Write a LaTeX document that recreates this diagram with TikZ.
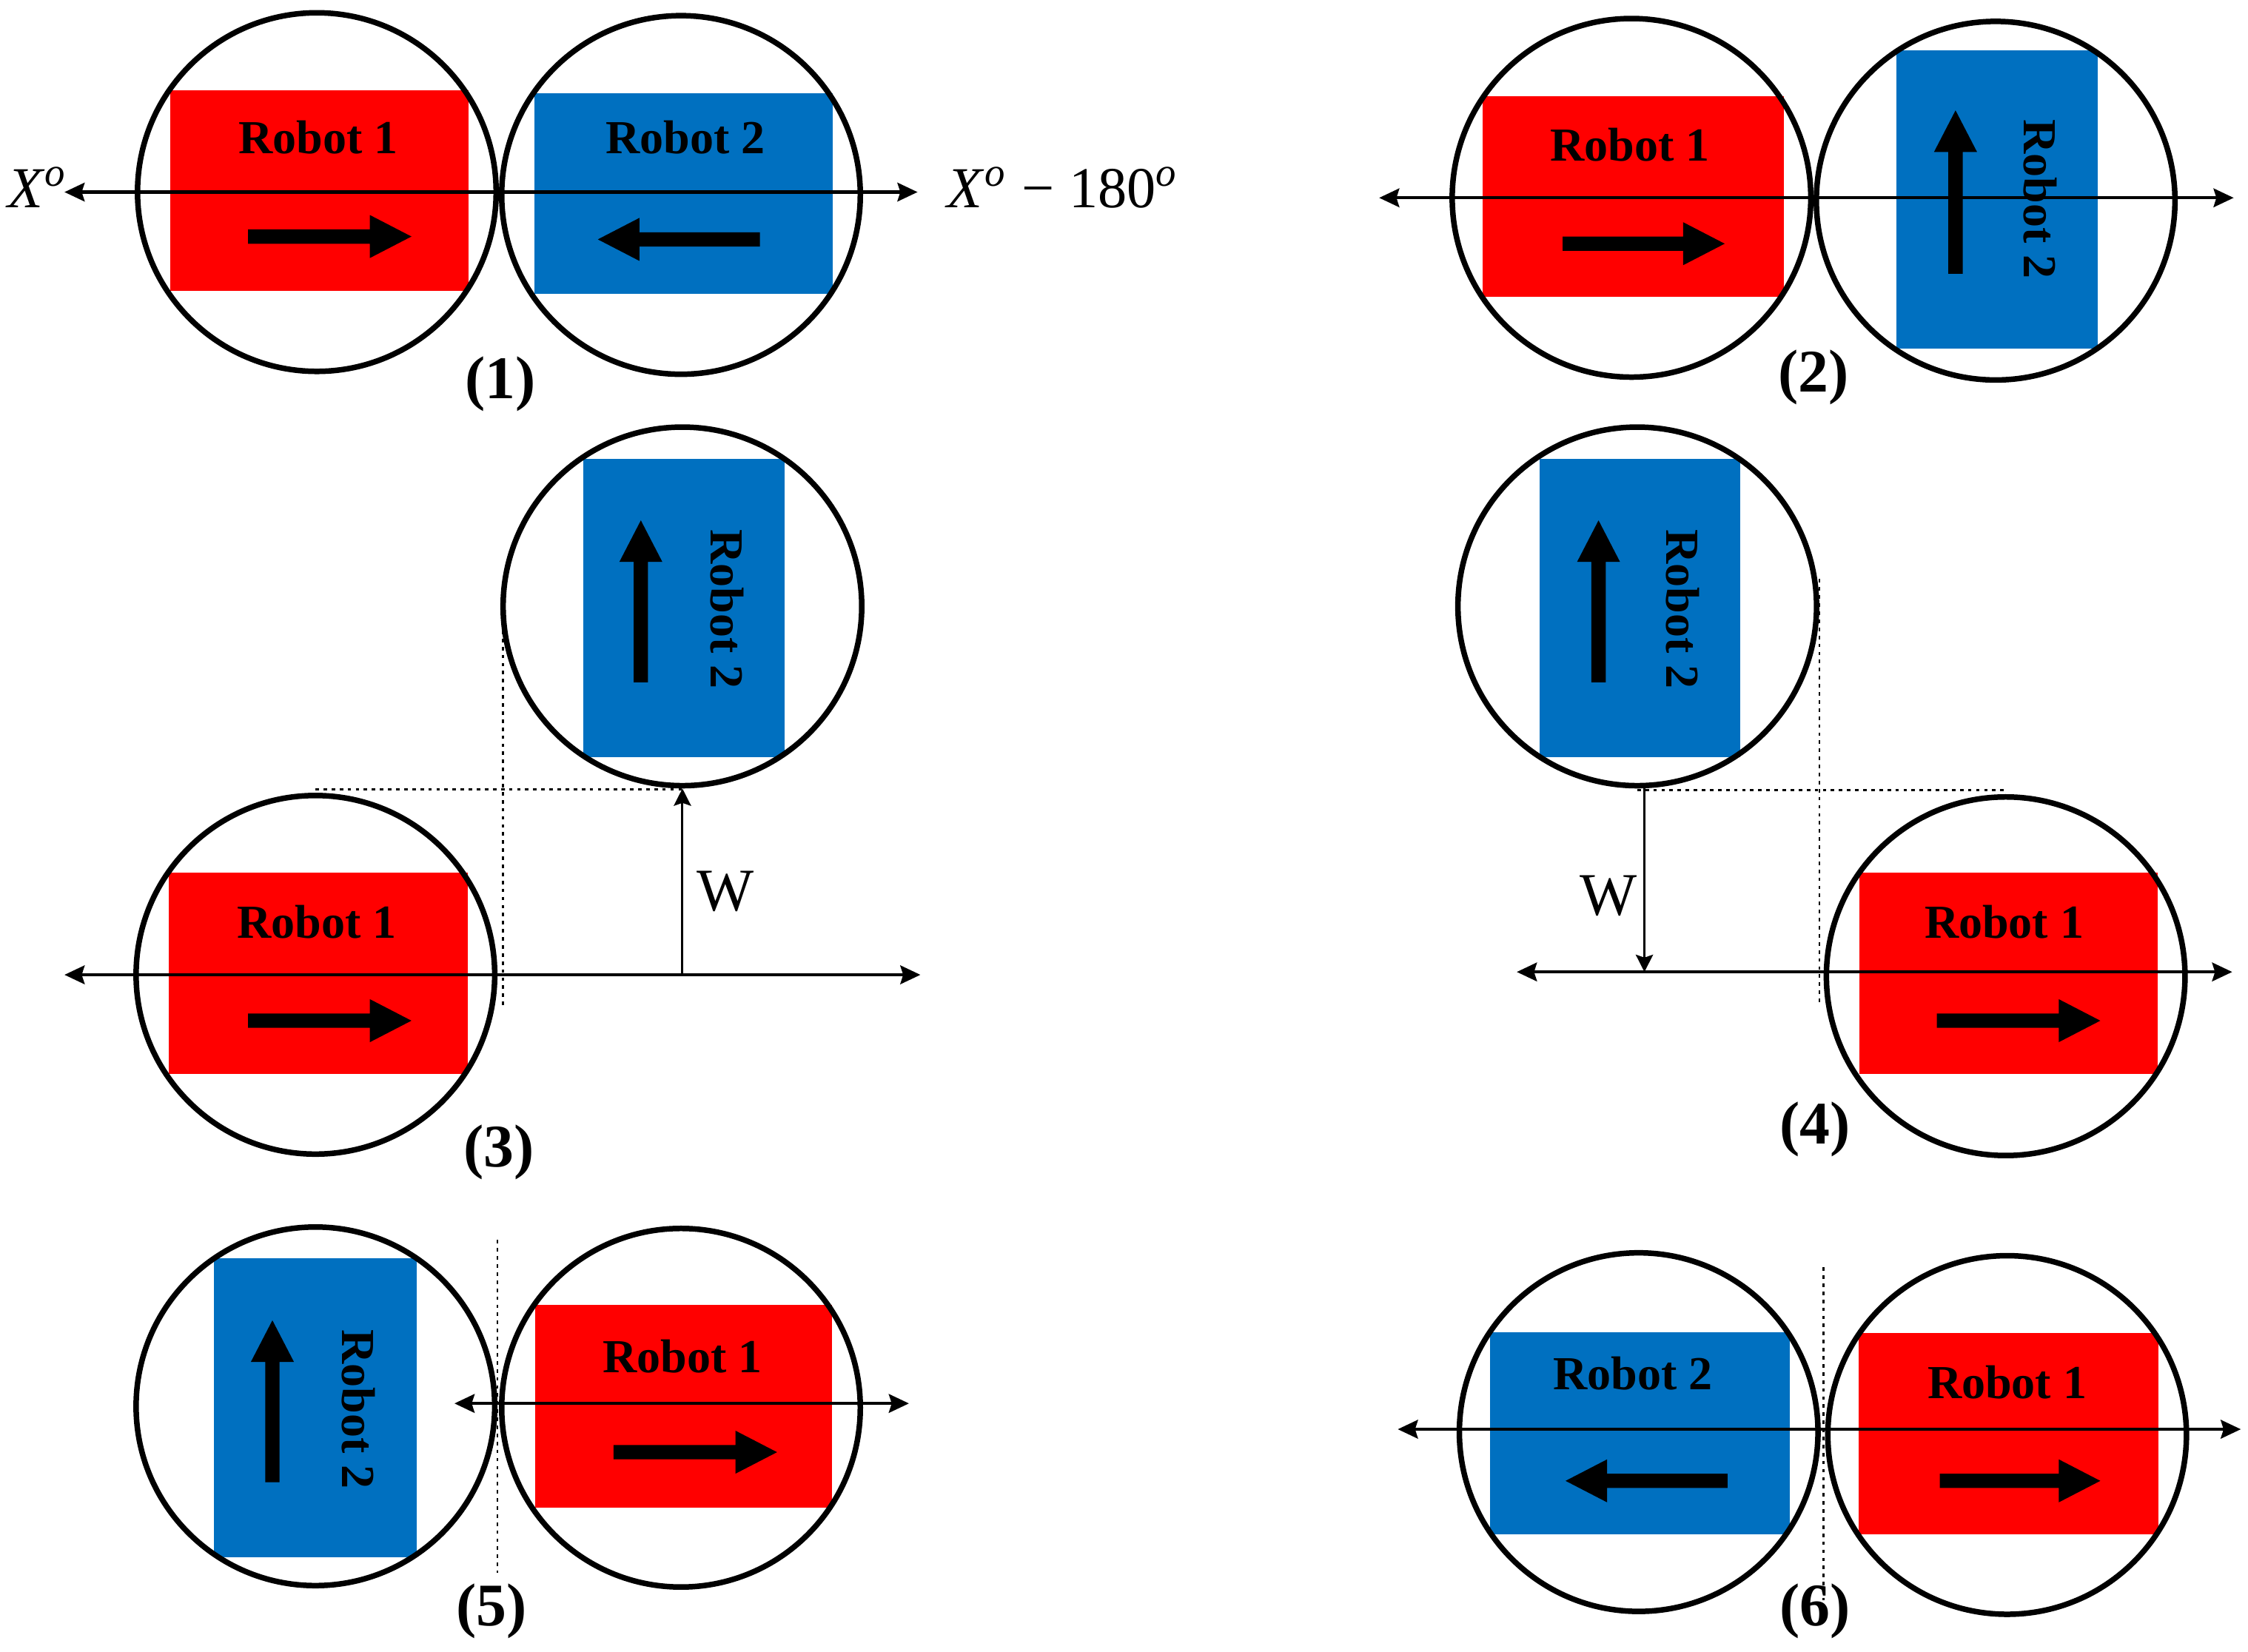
\documentclass[tikz,border=0pt]{standalone}
\usepackage{fontspec}
\setmainfont{Liberation Serif}
\usetikzlibrary{arrows.meta}
\definecolor{robred}{RGB}{255,0,0}
\definecolor{robblue}{RGB}{0,112,192}
\begin{document}
\begin{tikzpicture}[x=0.01cm,y=-0.01cm,
  rob/.style={draw=black, line width=1.1pt, circle, minimum size=2.5cm, inner sep=0pt, outer sep=0pt},
  redbox/.style 2 args={fill=robred, draw=none, inner sep=0pt, outer sep=0pt, minimum width=#1, minimum height=#2},
  bluebox/.style 2 args={fill=robblue, draw=none, inner sep=0pt, outer sep=0pt, minimum width=#1, minimum height=#2},
  rtext/.style={font=\fontsize{9.4}{11}\selectfont\bfseries, inner sep=0pt},
  plabel/.style={font=\fontsize{12}{14}\selectfont\bfseries, inner sep=0pt},
  xlab/.style={font=\fontsize{11.5}{13}\selectfont, inner sep=0pt},
  wlab/.style={font=\fontsize{12}{14}\selectfont, inner sep=0pt},
  axisline/.style={line width=0.6pt, {Stealth[length=0.14cm,width=0.13cm,inset=0.02cm]}-{Stealth[length=0.14cm,width=0.13cm,inset=0.02cm]}},
  warrow/.style={line width=0.45pt, -{Stealth[length=0.12cm,width=0.12cm,inset=0.02cm]}},
  guide/.style={line width=0.4pt, dash pattern=on 0.7pt off 0.9pt},
  pics/blkR/.style={code={\fill[black] (-#1,-5) -- (-29,-5) -- (-29,-15) -- (0,0) -- (-29,15) -- (-29,5) -- (-#1,5) -- cycle;}}]
\useasboundingbox (0,0) rectangle (1568,1152);

% ---------------- Panel 1 ----------------
\node[redbox={2.08cm}{1.40cm}] (p1r1) at (223,133) {};
\node[bluebox={2.08cm}{1.40cm}] (p1r2) at (477,135) {};
\node[rob] (p1c1) at (221,134) {};
\node[rob] (p1c2) at (475,136) {};
\coordinate (p1a) at (45,134);
\coordinate (p1b) at (640,134);
\draw[axisline] (p1a) -- (p1b);
\node[rtext] (p1t1) at (222,96) {Robot 1};
\node[rtext] (p1t2) at (478,96) {Robot 2};
\pic at (287,165) {blkR=114};
\pic[rotate=180] at (417,167) {blkR=113};
\node[xlab, anchor=base east] (p1xl) at (48,145) {\textit{X}\textsuperscript{\textit{o}}};
\node[xlab, anchor=base west] (p1xr) at (660,145) {\textit{X}\textsuperscript{\textit{o}} − 180\textsuperscript{\textit{o}}};
\node[plabel] (p1lab) at (349,268) {(1)};

% ---------------- Panel 2 ----------------
\node[redbox={2.10cm}{1.40cm}] (p2r1) at (1139,137) {};
\node[bluebox={1.40cm}{2.08cm}] (p2r2) at (1393,139) {};
\node[rob] (p2c1) at (1138,138) {};
\node[rob] (p2c2) at (1392,140) {};
\coordinate (p2a) at (962,138);
\coordinate (p2b) at (1558,138);
\draw[axisline] (p2a) -- (p2b);
\node[rtext] (p2t1) at (1137,101) {Robot 1};
\node[rtext, rotate=-90] (p2t2) at (1423,139) {Robot 2};
\pic at (1203,170) {blkR=113};
\pic[rotate=90] at (1364,77) {blkR=114};
\node[plabel] (p2lab) at (1265,263) {(2)};

% ---------------- Panel 3 ----------------
\node[bluebox={1.40cm}{2.08cm}] (p3r2) at (477,424) {};
\node[rob] (p3c2) at (476,423) {};
\node[redbox={2.08cm}{1.40cm}] (p3r1) at (222,679) {};
\node[rob] (p3c1) at (220,680) {};
\coordinate (p3a) at (45,680);
\coordinate (p3b) at (642,680);
\draw[guide] (p3c2.west) -- (p3c2.west |- 0,703);
\draw[guide] ([yshift=-0.025cm]p3c1.north |- p3c2.south) -- ([yshift=-0.025cm]p3c2.south);
\draw[axisline] (p3a) -- (p3b);
\draw[warrow] (p3c2.south |- p3a) -- ([yshift=-0.02cm]p3c2.south);
\node[wlab] (p3w) at (506,622) {W};
\node[rtext, rotate=-90] (p3t2) at (507,425) {Robot 2};
\pic[rotate=90] at (447,363) {blkR=113};
\node[rtext] (p3t1) at (221,643) {Robot 1};
\pic at (287,712) {blkR=114};
\node[plabel] (p3lab) at (348,804) {(3)};

% ---------------- Panel 4 ----------------
\node[bluebox={1.40cm}{2.08cm}] (p4r2) at (1144,424) {};
\node[rob] (p4c2) at (1142,423) {};
\node[redbox={2.08cm}{1.40cm}] (p4r1) at (1401,679) {};
\node[rob] (p4c1) at (1399,681) {};
\coordinate (p4a) at (1058,678);
\coordinate (p4b) at (1557,678);
\coordinate (p4top) at (1269,404);
\draw[guide] (p4top) -- (p4top |- 0,700);
\draw[guide] ([yshift=-0.03cm]p4c2.south) -- ([yshift=-0.03cm]p4c1.north |- p4c2.south);
\draw[axisline] (p4a) -- (p4b);
\draw[warrow] ([xshift=0.05cm]p4c2.south) -- ([xshift=0.05cm]p4c2.south |- p4a);
\node[wlab] (p4w) at (1122,625) {W};
\node[rtext, rotate=-90] (p4t2) at (1174,425) {Robot 2};
\pic[rotate=90] at (1115,363) {blkR=113};
\node[rtext] (p4t1) at (1398,643) {Robot 1};
\pic at (1465,712) {blkR=114};
\node[plabel] (p4lab) at (1266,788) {(4)};

% ---------------- Panel 5 ----------------
\node[bluebox={1.41cm}{2.08cm}] (p5r2) at (220,982) {};
\node[redbox={2.07cm}{1.41cm}] (p5r1) at (477,981) {};
\node[rob] (p5c2) at (220,981) {};
\node[rob] (p5c1) at (475,982) {};
\coordinate (p5d1) at (347,865);
\coordinate (p5d2) at (347,1097);
\draw[guide] (p5d1) -- (p5d2);
\coordinate (p5a) at (317,979);
\coordinate (p5b) at (634,979);
\draw[axisline] (p5a) -- (p5b);
\node[rtext, rotate=-90] (p5t2) at (250,983) {Robot 2};
\pic[rotate=90] at (190,921) {blkR=113};
\node[rtext] (p5t1) at (476,946) {Robot 1};
\pic at (542,1013) {blkR=114};
\node[plabel] (p5lab) at (343,1124) {(5)};

% ---------------- Panel 6 ----------------
\node[bluebox={2.09cm}{1.41cm}] (p6r2) at (1144,1000) {};
\node[redbox={2.09cm}{1.40cm}] (p6r1) at (1401,1000) {};
\node[rob] (p6c2) at (1143,999) {};
\node[rob] (p6c1) at (1400,1001) {};
\coordinate (p6d1) at (1272,884);
\coordinate (p6d2) at (1272,1116);
\draw[guide] (p6d1) -- (p6d2);
\coordinate (p6a) at (975,997);
\coordinate (p6b) at (1563,997);
\draw[axisline] (p6a) -- (p6b);
\node[rtext] (p6t2) at (1139,958) {Robot 2};
\pic[rotate=180] at (1092,1033) {blkR=113};
\node[rtext] (p6t1) at (1400,964) {Robot 1};
\pic at (1465,1033) {blkR=112};
\node[plabel] (p6lab) at (1266,1124) {(6)};
\end{tikzpicture}
\end{document}
